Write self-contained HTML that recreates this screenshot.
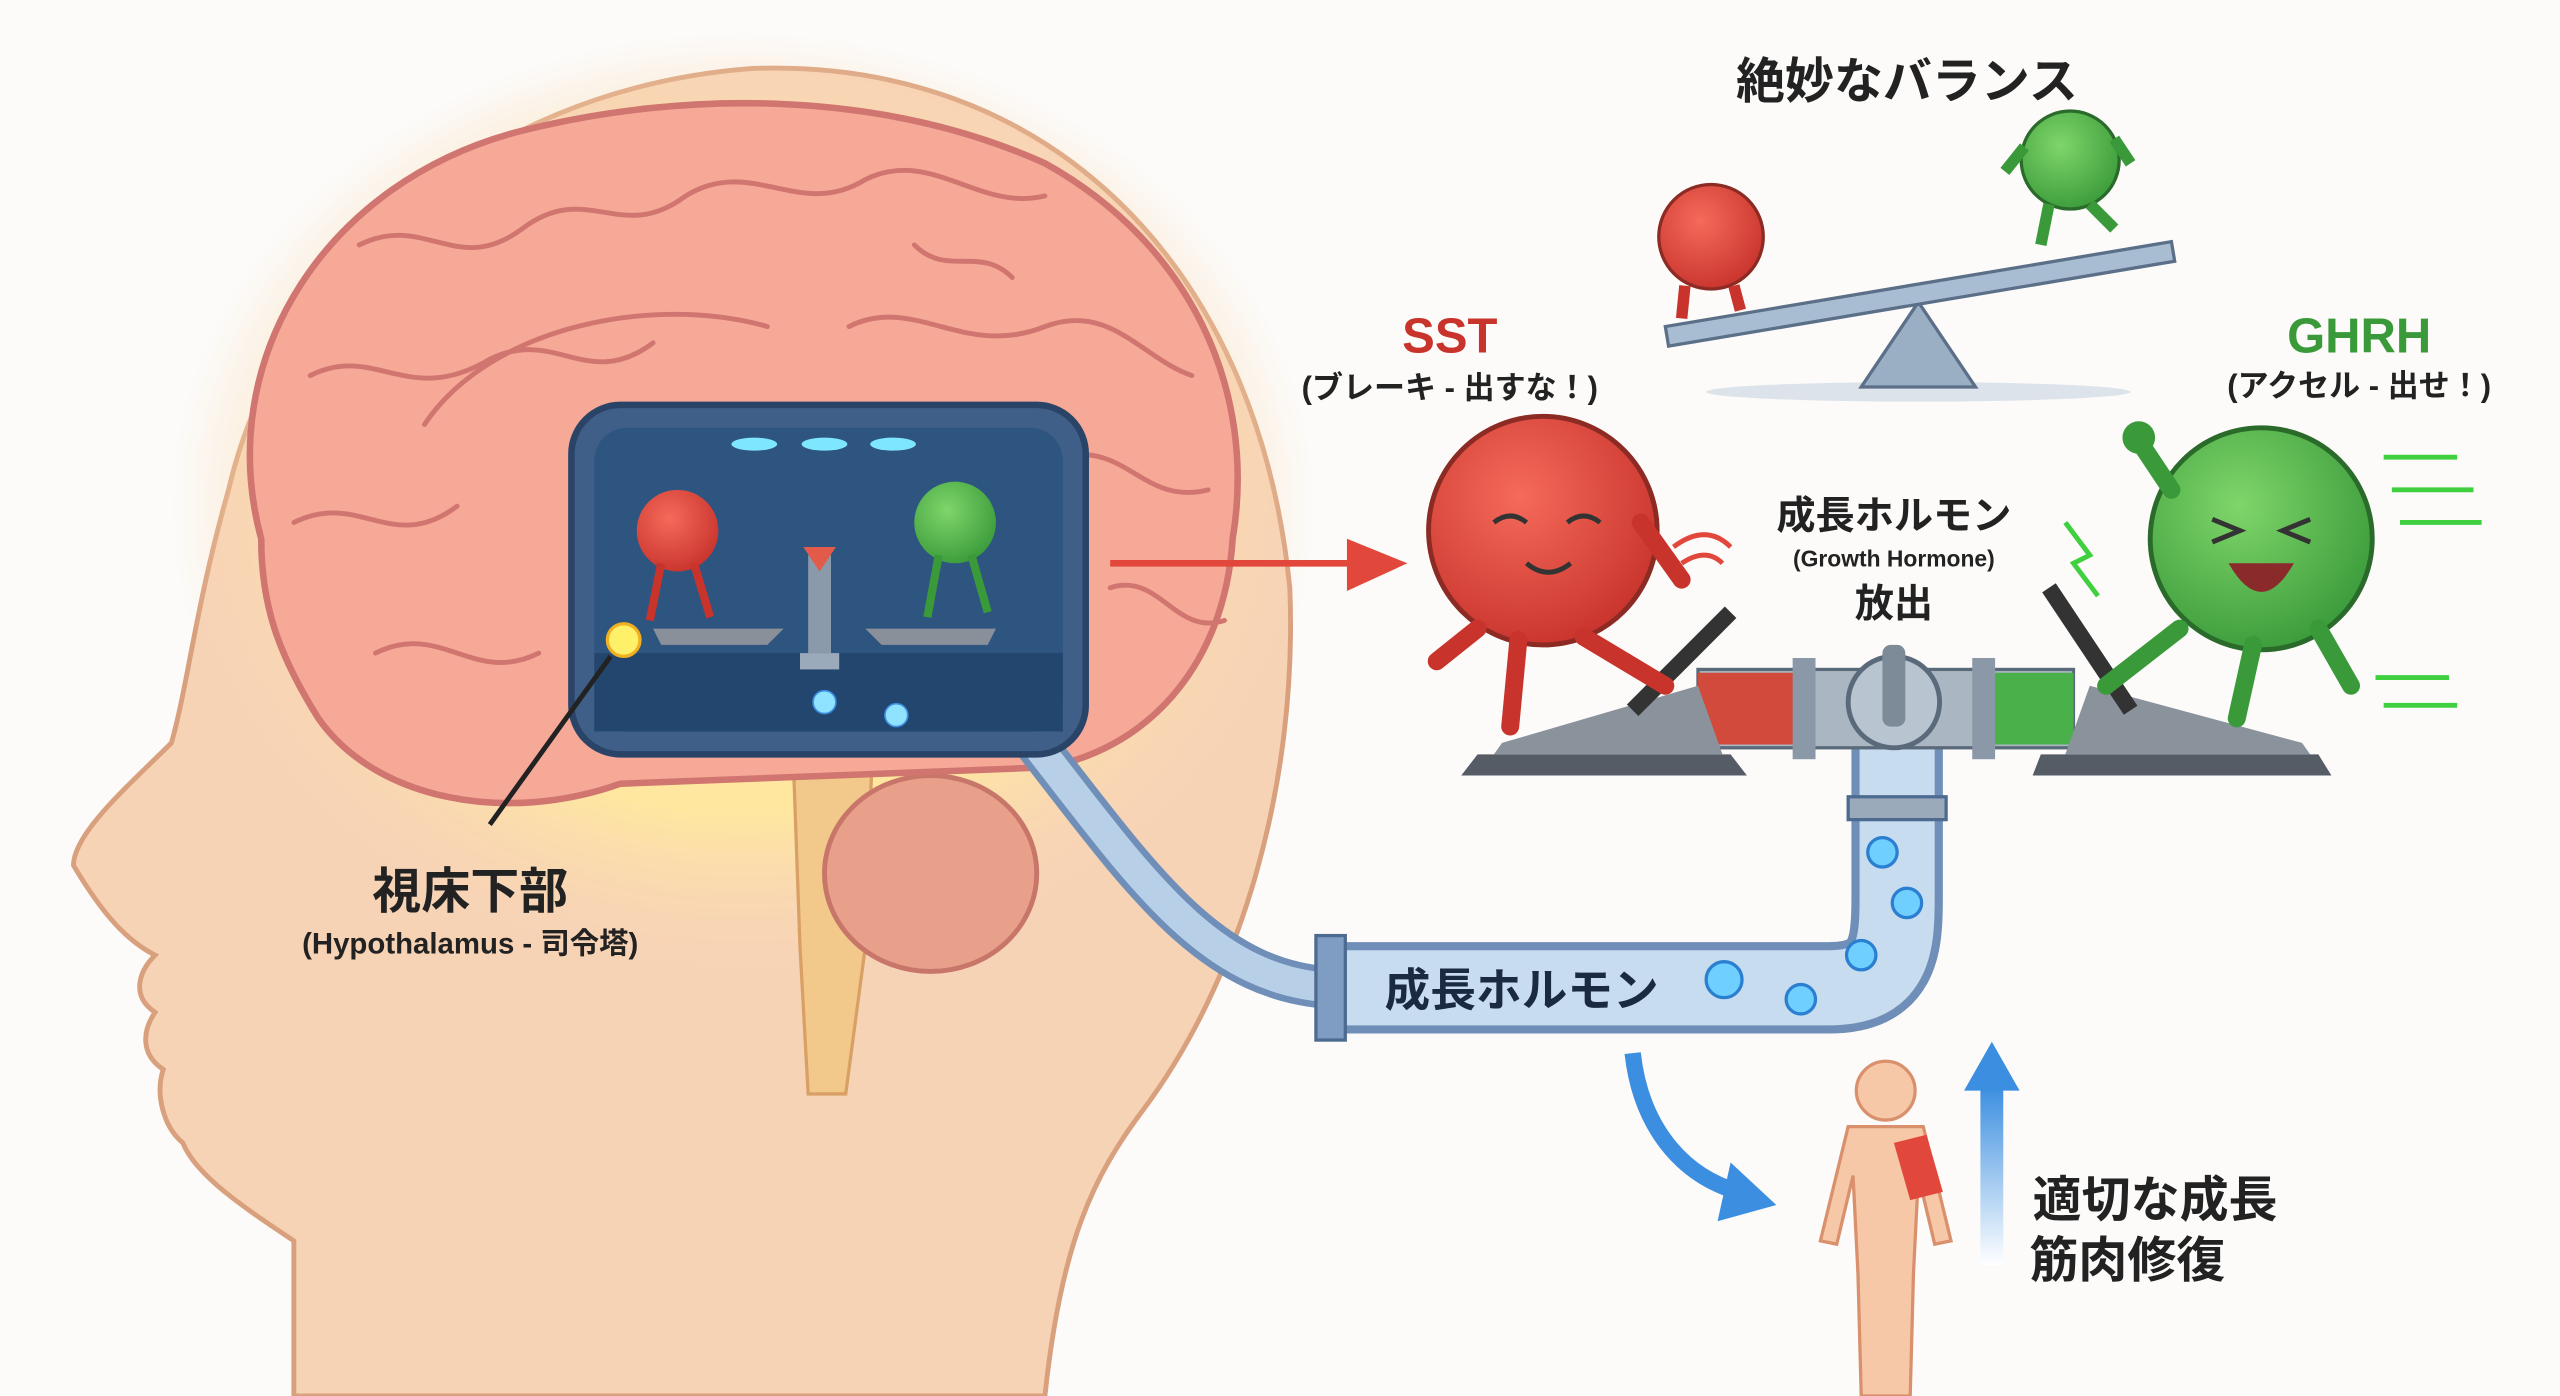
<!DOCTYPE html>
<html><head><meta charset="utf-8"><style>
html,body{margin:0;padding:0;background:#fcfbf9;}
svg{display:block;}
text{font-family:"Liberation Sans","Noto Sans CJK JP",sans-serif;font-weight:bold;}
</style></head><body>
<svg width="2560" height="1396" viewBox="0 0 1568 855" preserveAspectRatio="none" xmlns="http://www.w3.org/2000/svg">
<defs>
<radialGradient id="glow" cx="0.5" cy="0.5" r="0.5"><stop offset="0.65" stop-color="#ffe7a0"/><stop offset="1" stop-color="#f8d6b6" stop-opacity="0"/></radialGradient>
<linearGradient id="upa" x1="0" y1="1" x2="0" y2="0"><stop offset="0" stop-color="#ffffff"/><stop offset="1" stop-color="#3b8ee0"/></linearGradient>
<radialGradient id="red" cx="0.4" cy="0.35" r="0.7"><stop offset="0" stop-color="#f56a5a"/><stop offset="1" stop-color="#c8332c"/></radialGradient>
<radialGradient id="grn" cx="0.4" cy="0.35" r="0.7"><stop offset="0" stop-color="#7fd66a"/><stop offset="1" stop-color="#3a9a3a"/></radialGradient>
</defs>
<rect width="1568" height="855" fill="#fcfbf9"/>
<path d="M180,855 L180,760 C150,740 120,720 112,700 C100,690 95,670 100,655 C85,645 88,630 95,620 C80,610 85,595 95,585 C75,575 60,555 45,530 C45,510 80,480 105,455 C115,420 120,370 140,300 C170,170 290,55 460,42 C640,35 770,160 790,360 C795,480 760,600 700,680 C670,720 650,760 640,855 Z" fill="#f7d3b6" stroke="#d9a07e" stroke-width="3"/>
<ellipse cx="455" cy="310" rx="350" ry="290" fill="url(#glow)"/>
<path d="M485,440 L535,440 L530,580 L518,670 L495,670 L490,580 Z" fill="#f2c98a" stroke="#d9a066" stroke-width="2"/>
<ellipse cx="570" cy="535" rx="65" ry="60" fill="#e8a08a" stroke="#c8766a" stroke-width="3"/>
<path d="M160,330 C130,220 200,110 320,80 C420,55 540,55 640,100 C730,150 770,240 755,330 C750,410 700,460 640,470 L380,480 C310,505 230,490 195,440 C170,400 160,370 160,330 Z" fill="#f5a996" stroke="#d0756f" stroke-width="4"/>
<g fill="none" stroke="#d0756f" stroke-width="3" stroke-linecap="round">
<path d="M220,150 C260,130 280,170 320,140 C360,110 380,150 420,120 C460,95 490,135 530,110 C570,90 600,130 640,120"/>
<path d="M190,230 C230,210 250,250 300,220 C340,200 360,240 400,210"/>
<path d="M520,200 C560,180 590,220 640,200 C680,185 700,220 730,230"/>
<path d="M180,320 C220,300 240,340 280,310"/>
<path d="M650,280 C690,270 700,310 740,300"/>
<path d="M260,260 C300,200 400,180 470,200"/>
<path d="M230,400 C270,380 290,420 330,400"/>
<path d="M680,360 C710,350 720,390 750,380"/>
<path d="M560,150 C580,170 600,150 620,170"/>
</g>
<path d="M630,450 C700,540 740,600 815,605" fill="none" stroke="#6f8fb8" stroke-width="26"/>
<path d="M630,450 C700,540 740,600 815,605" fill="none" stroke="#b8cfe8" stroke-width="18"/>
<rect x="350" y="248" width="315" height="214" rx="30" fill="#3f5f88" stroke="#2a4468" stroke-width="4"/>
<rect x="364" y="262" width="287" height="186" rx="20" fill="#2d5580"/>
<rect x="364" y="400" width="287" height="48" fill="#23466e"/>
<ellipse cx="462" cy="272" rx="14" ry="4" fill="#7fe6ff"/><ellipse cx="505" cy="272" rx="14" ry="4" fill="#7fe6ff"/><ellipse cx="547" cy="272" rx="14" ry="4" fill="#7fe6ff"/>
<circle cx="415" cy="325" r="25" fill="url(#red)"/><path d="M405,345 L398,380 M425,345 L435,378" stroke="#c8332c" stroke-width="5"/>
<circle cx="585" cy="320" r="25" fill="url(#grn)"/><path d="M575,340 L568,378 M595,340 L605,375" stroke="#3a9a3a" stroke-width="5"/>
<path d="M400,385 L480,385 L470,395 L405,395 Z M530,385 L610,385 L605,395 L540,395 Z" fill="#8a9099"/>
<rect x="495" y="340" width="14" height="60" fill="#8a9aaa"/><path d="M492,335 L512,335 L502,350 Z" fill="#e25a4a"/>
<rect x="490" y="400" width="24" height="10" fill="#9aaabb"/>
<circle cx="505" cy="430" r="7" fill="#8fe3ff" stroke="#3b8ee0"/><circle cx="549" cy="438" r="7" fill="#8fe3ff" stroke="#3b8ee0"/>
<circle cx="382" cy="392" r="10" fill="#fff06a" stroke="#f0b020" stroke-width="2"/>
<line x1="374" y1="402" x2="300" y2="505" stroke="#222" stroke-width="3"/>
<text x="288" y="556" font-size="30" text-anchor="middle" fill="#222">視床下部</text>
<text x="288" y="584" font-size="18" text-anchor="middle" fill="#222">(Hypothalamus - 司令塔)</text>
<line x1="680" y1="345" x2="835" y2="345" stroke="#e2473c" stroke-width="4"/>
<path d="M825,330 L862,345 L825,362 Z" fill="#e2473c"/>
<path d="M815,605 L1120,605 C1160,605 1162,580 1162,550 L1162,450" fill="none" stroke="#6f8fb8" stroke-width="56"/>
<path d="M815,605 L1120,605 C1160,605 1162,580 1162,550 L1162,450" fill="none" stroke="#c8dcf0" stroke-width="46"/>
<rect x="806" y="573" width="18" height="64" fill="#7f9cc2" stroke="#4d6a90" stroke-width="2"/>
<rect x="1132" y="488" width="60" height="14" fill="#9aaabb" stroke="#4d6a90" stroke-width="2"/>
<text x="932" y="616" font-size="28" text-anchor="middle" fill="#1a2a40">成長ホルモン</text>
<g fill="#6fd0ff" stroke="#2b7fd0" stroke-width="2">
<circle cx="1056" cy="600" r="11"/><circle cx="1103" cy="612" r="9"/><circle cx="1140" cy="585" r="9"/><circle cx="1168" cy="553" r="9"/><circle cx="1153" cy="522" r="9"/></g>
<rect x="1040" y="410" width="230" height="48" fill="#aab6c2" stroke="#5b6a7a" stroke-width="2"/>
<path d="M1040,412 L1100,412 L1100,456 L1040,456 Z" fill="#d24a3c"/>
<path d="M1215,412 L1270,412 L1270,456 L1215,456 Z" fill="#49b04a"/>
<rect x="1098" y="403" width="14" height="62" fill="#8a98a8"/><rect x="1208" y="403" width="14" height="62" fill="#8a98a8"/>
<circle cx="1160" cy="430" r="28" fill="#b8c4d0" stroke="#5b6a7a" stroke-width="3"/>
<rect x="1153" y="395" width="14" height="50" rx="5" fill="#7d8a98"/>
<path d="M905,462 L1060,462 L1070,475 L895,475 Z" fill="#555c66"/>
<path d="M920,455 L1040,420 L1055,462 L915,462 Z" fill="#8a929c"/>
<line x1="1000" y1="435" x2="1060" y2="375" stroke="#333" stroke-width="10"/>
<path d="M1250,462 L1420,462 L1428,475 L1245,475 Z" fill="#555c66"/>
<path d="M1265,462 L1280,420 L1410,455 L1415,462 Z" fill="#8a929c"/>
<line x1="1305" y1="435" x2="1255" y2="360" stroke="#333" stroke-width="10"/>
<circle cx="945" cy="325" r="70" fill="url(#red)" stroke="#8c2a24" stroke-width="3"/>
<path d="M915,320 Q925,312 935,320 M960,320 Q970,312 980,320" stroke="#333" stroke-width="3" fill="none"/>
<path d="M935,345 Q948,356 962,345" stroke="#333" stroke-width="3" fill="none"/>
<path d="M905,385 L880,405 M930,392 L925,445 M970,390 L1020,420 M1005,320 L1030,355" stroke="#c8332c" stroke-width="11" stroke-linecap="round"/>
<path d="M1025,335 Q1045,320 1060,335 M1030,345 Q1045,335 1055,345" stroke="#e2473c" stroke-width="3" fill="none"/>
<circle cx="1385" cy="330" r="68" fill="url(#grn)" stroke="#2a6a2a" stroke-width="3"/>
<path d="M1355,318 L1372,325 L1355,332 M1415,318 L1398,325 L1415,332" stroke="#333" stroke-width="3" fill="none"/>
<path d="M1365,345 Q1385,380 1405,345 Z" fill="#8b2a2a"/>
<path d="M1330,300 L1310,270 M1335,385 L1290,420 M1380,395 L1370,440 M1420,385 L1440,420" stroke="#3a9a3a" stroke-width="11" stroke-linecap="round"/>
<circle cx="1310" cy="268" r="10" fill="#3a9a3a"/>
<g stroke="#3fd03f" stroke-width="3"><line x1="1460" y1="280" x2="1505" y2="280"/><line x1="1465" y1="300" x2="1515" y2="300"/><line x1="1470" y1="320" x2="1520" y2="320"/><line x1="1455" y1="415" x2="1500" y2="415"/><line x1="1460" y1="432" x2="1505" y2="432"/><path d="M1265,320 L1280,340 L1270,345 L1285,365" fill="none"/></g>
<text x="888" y="216" font-size="30" text-anchor="middle" fill="#c8332c">SST</text>
<text x="888" y="244" font-size="19" text-anchor="middle" fill="#222">(ブレーキ - 出すな！)</text>
<text x="1445" y="216" font-size="30" text-anchor="middle" fill="#3a9a3a">GHRH</text>
<text x="1445" y="243" font-size="19" text-anchor="middle" fill="#222">(アクセル - 出せ！)</text>
<text x="1160" y="324" font-size="24" text-anchor="middle" fill="#222">成長ホルモン</text>
<text x="1160" y="347" font-size="14" text-anchor="middle" fill="#222">(Growth Hormone)</text>
<text x="1160" y="378" font-size="24" text-anchor="middle" fill="#222">放出</text>
<text x="1168" y="60" font-size="30" text-anchor="middle" fill="#222">絶妙なバランス</text>
<ellipse cx="1175" cy="240" rx="130" ry="6" fill="#dde3ea"/>
<path d="M1175,185 L1140,237 L1210,237 Z" fill="#9aaec4" stroke="#5b6f88" stroke-width="2"/>
<path d="M1020,200 L1330,148 L1332,160 L1022,212 Z" fill="#a8bcd2" stroke="#5b6f88" stroke-width="2"/>
<circle cx="1048" cy="145" r="32" fill="url(#red)" stroke="#8c2a24" stroke-width="2"/>
<path d="M1032,175 L1030,195 M1062,175 L1066,190" stroke="#c8332c" stroke-width="7"/>
<circle cx="1268" cy="98" r="30" fill="url(#grn)" stroke="#2a6a2a" stroke-width="2"/>
<path d="M1255,125 L1250,150 M1280,125 L1295,140 M1240,90 L1228,105 M1295,85 L1305,100" stroke="#3a9a3a" stroke-width="7"/>
<path d="M1000,645 C1005,690 1030,720 1065,730" fill="none" stroke="#3b8ee0" stroke-width="10"/>
<path d="M1060,712 L1088,738 L1052,748 Z" fill="#3b8ee0"/>
<rect x="1213" y="665" width="14" height="110" fill="url(#upa)"/>
<path d="M1203,668 L1220,638 L1237,668 Z" fill="#3b8ee0"/>
<g fill="#f6c8a8" stroke="#d9906c" stroke-width="2">
<circle cx="1155" cy="668" r="18"/>
<path d="M1132,690 L1178,690 L1195,760 L1185,762 L1175,720 L1172,780 L1170,855 L1140,855 L1138,780 L1135,720 L1125,762 L1115,760 Z"/></g>
<path d="M1160,700 L1180,695 L1190,730 L1170,735 Z" fill="#e2473c"/>
<text x="1320" y="745" font-size="30" text-anchor="middle" fill="#222">適切な成長</text>
<text x="1303" y="782" font-size="30" text-anchor="middle" fill="#222">筋肉修復</text>
</svg>
</body></html>
